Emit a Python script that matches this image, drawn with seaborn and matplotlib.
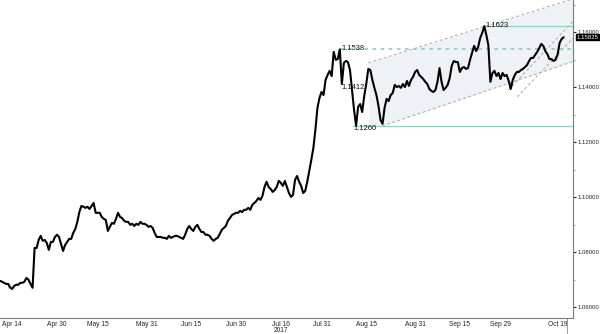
import numpy as np
import pandas as pd
import matplotlib
matplotlib.use("Agg")
import matplotlib.pyplot as plt
import seaborn as sns
from matplotlib.ticker import FixedLocator, MultipleLocator, FuncFormatter

# ---------------- data ----------------
# price path, two samples per business day, first sample 3 business days before Apr 14
price = [
    1.0695, 1.0692, 1.0688, 1.0684, 1.0684, 1.0670, 1.0666, 1.0677, 1.0681, 1.0681,
    1.0688, 1.0688, 1.0692, 1.0706, 1.0699, 1.0684, 1.0670, 1.0815, 1.0815, 1.0844,
    1.0859, 1.0841, 1.0844, 1.0833, 1.0808, 1.0837, 1.0837, 1.0855, 1.0863, 1.0855,
    1.0830, 1.0804, 1.0826, 1.0837, 1.0848, 1.0848, 1.0870, 1.0884, 1.0910, 1.0946,
    1.0968, 1.0965, 1.0961, 1.0965, 1.0957, 1.0968, 1.0979, 1.0943, 1.0943, 1.0943,
    1.0928, 1.0921, 1.0917, 1.0877, 1.0892, 1.0906, 1.0903, 1.0921, 1.0943, 1.0928,
    1.0924, 1.0914, 1.0910, 1.0910, 1.0899, 1.0903, 1.0895, 1.0903, 1.0899, 1.0910,
    1.0903, 1.0903, 1.0899, 1.0892, 1.0895, 1.0888, 1.0870, 1.0855, 1.0855, 1.0855,
    1.0852, 1.0852, 1.0848, 1.0859, 1.0852, 1.0855, 1.0859, 1.0859, 1.0855, 1.0852,
    1.0848, 1.0863, 1.0884, 1.0895, 1.0884, 1.0877, 1.0892, 1.0899, 1.0884, 1.0873,
    1.0873, 1.0863, 1.0863, 1.0859, 1.0848, 1.0841, 1.0848, 1.0852, 1.0866, 1.0881,
    1.0888, 1.0895, 1.0914, 1.0924, 1.0935, 1.0939, 1.0943, 1.0943, 1.0950, 1.0946,
    1.0954, 1.0954, 1.0961, 1.0954, 1.0972, 1.0979, 1.0986, 1.0997, 1.0990, 1.1005,
    1.1037, 1.1056, 1.1037, 1.1030, 1.1019, 1.1026, 1.1037, 1.1059, 1.1052, 1.1041,
    1.1059, 1.1037, 1.1015, 1.1001, 1.1008, 1.1063, 1.1077, 1.1056, 1.1041, 1.1015,
    1.1023, 1.1056, 1.1096, 1.1136, 1.1179, 1.1245, 1.1325, 1.1361, 1.1383, 1.1372,
    1.1427, 1.1445, 1.1460, 1.1441, 1.1529, 1.1500, 1.1503, 1.1538, 1.1412, 1.1489,
    1.1496, 1.1492, 1.1463, 1.1390, 1.1318, 1.1260, 1.1329, 1.1339, 1.1310, 1.1369,
    1.1412, 1.1467, 1.1463, 1.1427, 1.1398, 1.1372, 1.1332, 1.1281, 1.1267, 1.1325,
    1.1358, 1.1350, 1.1372, 1.1379, 1.1409, 1.1401, 1.1405, 1.1398, 1.1412, 1.1401,
    1.1423, 1.1405, 1.1427, 1.1438, 1.1456, 1.1463, 1.1445, 1.1438, 1.1430, 1.1420,
    1.1412, 1.1394, 1.1387, 1.1383, 1.1390, 1.1420, 1.1470, 1.1420, 1.1390, 1.1398,
    1.1409, 1.1434, 1.1478, 1.1496, 1.1492, 1.1492, 1.1456, 1.1470, 1.1474, 1.1467,
    1.1470, 1.1500, 1.1525, 1.1551, 1.1532, 1.1547, 1.1580, 1.1598, 1.1623, 1.1591,
    1.1554, 1.1420, 1.1452, 1.1460, 1.1441, 1.1452, 1.1430, 1.1452, 1.1441, 1.1445,
    1.1423, 1.1394, 1.1427, 1.1445, 1.1456, 1.1456, 1.1463, 1.1467, 1.1474, 1.1481,
    1.1496, 1.1507, 1.1507, 1.1518, 1.1529, 1.1543, 1.1558, 1.1551, 1.1532, 1.1521,
    1.1503, 1.1503, 1.1496, 1.1500, 1.1518, 1.1561, 1.1576, 1.15825,
]
first_sample_bday = -3.0
samples_per_bday = 2

tick_dates = ["2017-04-14", "2017-04-30", "2017-05-15", "2017-05-31", "2017-06-15",
              "2017-06-30", "2017-07-16", "2017-07-31", "2017-08-15", "2017-08-31",
              "2017-09-15", "2017-09-29", "2017-10-19"]
tick_labels = ["Apr 14", "Apr 30", "May 15", "May 31", "Jun 15", "Jun 30",
               "Jul 16\n2017", "Jul 31", "Aug 15", "Aug 31", "Sep 15", "Sep 29", "Oct 19"]
y_ticks = [1.06, 1.08, 1.10, 1.12, 1.14, 1.16]

# annotated levels
lvl_high = 1.1623
lvl_mid = 1.1538
lvl_dip = 1.1412
lvl_low = 1.1260
last_price = 1.15825

# ---------------- figure ----------------
sns.set_style("white")
plt.rcParams["font.family"] = ["Liberation Sans", "DejaVu Sans"]

fig = plt.figure(figsize=(6.0, 3.34), dpi=100)
ax = fig.add_axes([0.0, 0.048, 0.955, 0.952])

n = len(price)
xs = first_sample_bday + np.arange(n) / samples_per_bday
df = pd.DataFrame({"x": xs, "price": price})

# channel shading and lines (positions in business-day / price units)
up0, up1 = (87.5, 1.1489), (137.8, 1.1722)
lo0, lo1 = (90.9, 1.1259), (137.8, 1.1494)
in_up0, in_up1 = (121.9, 1.1390), (137.8, 1.1640)
in_lo0, in_lo1 = (124.1, 1.1365), (137.8, 1.1578)

def line_at(p0, p1, x):
    return p0[1] + (p1[1] - p0[1]) * (x - p0[0]) / (p1[0] - p0[0])

xf = np.array([up0[0], lo0[0], lo1[0]])
upper = line_at(up0, up1, xf)
lower = np.array([lvl_low, lo0[1], lo1[1]])
ax.fill_between(xf, lower, upper, color="#eef2f6", zorder=0, lw=0)

dash_kw = dict(color="#a8a8a8", lw=0.7, dashes=(3, 2.5), zorder=1)
for p0, p1 in [(up0, up1), (lo0, lo1), (in_up0, in_up1), (in_lo0, in_lo1)]:
    ax.plot([p0[0], p1[0]], [p0[1], p1[1]], **dash_kw)

teal = "#8ed4c2"
x_right = 137.8
ax.plot([116.7, x_right], [lvl_high, lvl_high], color=teal, lw=0.9, zorder=1)
ax.plot([80.6, x_right], [lvl_mid, lvl_mid], color=teal, lw=1.3, dashes=(2, 2.5), zorder=1)
ax.plot([83.8, x_right], [lvl_low, lvl_low], color=teal, lw=0.9, zorder=1)

sns.lineplot(data=df, x="x", y="price", ax=ax, color="black", lw=1.5,
             estimator=None, sort=False, zorder=3)

# level labels
lab_kw = dict(fontsize=5.4, color="#111111", va="center", ha="left", zorder=4)
ax.text(80.9, lvl_mid + 0.0003, f"{lvl_mid:.4f}", **lab_kw)
ax.text(80.9, lvl_dip - 0.0013, f"{lvl_dip:.4f}", **lab_kw)
ax.text(83.8, lvl_low - 0.0009, f"{lvl_low:.4f}", **lab_kw)
ax.text(116.3, lvl_high + 0.0002, f"{lvl_high:.4f}", **lab_kw)

# axes formatting
ax.set_xlim(-3.0, 137.8)
ax.set_ylim(1.0560, 1.1718)
tick_pos = [int(np.busday_count("2017-04-14", d)) for d in tick_dates]
ax.xaxis.set_major_locator(FixedLocator(tick_pos))
ax.set_xticklabels(tick_labels)
mids = [(a + b) / 2 for a, b in zip(tick_pos[:-1], tick_pos[1:])]
ax.xaxis.set_minor_locator(FixedLocator(mids))
ax.yaxis.tick_right()
ax.yaxis.set_major_locator(FixedLocator(y_ticks))
ax.yaxis.set_minor_locator(MultipleLocator(0.01))
ax.yaxis.set_major_formatter(FuncFormatter(lambda v, p: f"{v:.5f}"))
ax.set_xlabel("")
ax.set_ylabel("")

for s in ["left", "top"]:
    ax.spines[s].set_visible(False)
for s in ["right", "bottom"]:
    ax.spines[s].set_color("#7a7a7a")
    ax.spines[s].set_linewidth(0.8)

ax.tick_params(axis="x", which="major", length=0, labelsize=4.8, pad=2,
               colors="#222222")
ax.tick_params(axis="x", which="minor", length=2.5, direction="in", color="#999999")
ax.tick_params(axis="y", which="major", length=2.0, direction="out", labelsize=4.3,
               pad=1.0, colors="#222222", right=True, left=False)
ax.tick_params(axis="y", which="minor", length=1.5, direction="out", color="#999999",
               right=True, left=False)
for lab in ax.get_xticklabels():
    lab.set_linespacing(0.95)

# current-date marker below the axis
ax.plot([136.3, 136.3], [1.0560, 1.0505], color="#9a9a9a", lw=0.7, clip_on=False)

# last price box
ax.text(1.006, last_price, f"{last_price:.5f}", transform=ax.get_yaxis_transform(),
        fontsize=4.4, color="white", va="center", ha="left", zorder=6, clip_on=False,
        bbox=dict(boxstyle="square,pad=0.12", fc="black", ec="black"))

fig.savefig("out.png", dpi=100)
